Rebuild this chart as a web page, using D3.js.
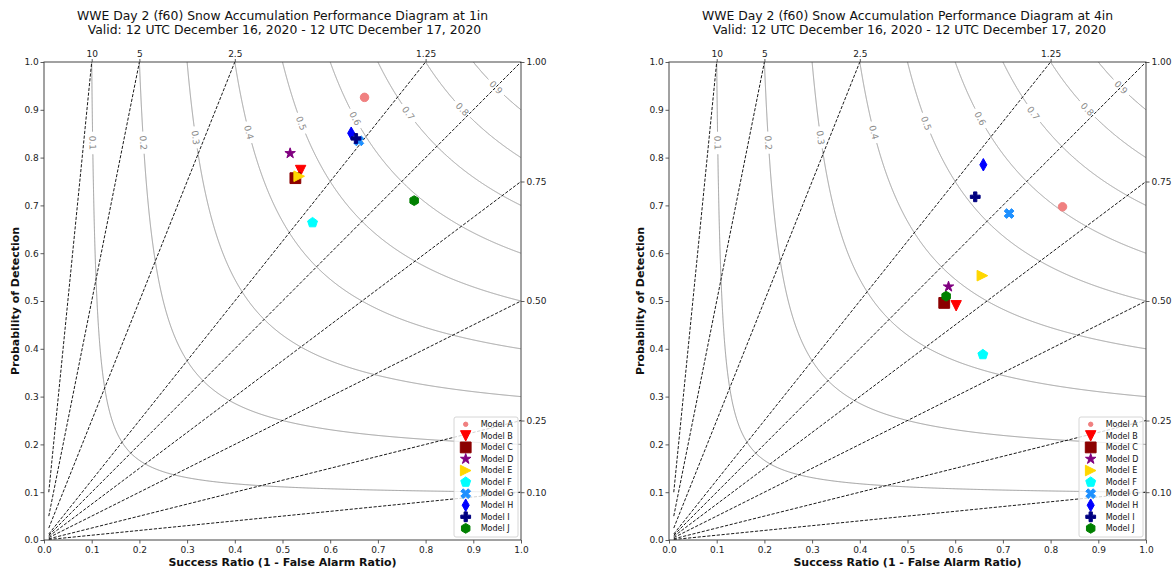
<!DOCTYPE html>
<html>
<head>
<meta charset="utf-8">
<script src="https://cdn.jsdelivr.net/npm/d3@7"></script>
<style>
  body { margin: 0; background: #fff; }
  svg { display: block; }
  text { font-family: "DejaVu Sans", sans-serif; }
</style>
</head>
<body>
<svg id="chart" width="1173" height="571"></svg>
<script>
// ---- data -------------------------------------------------------------
const models = ["Model A", "Model B", "Model C", "Model D", "Model E",
                "Model F", "Model G", "Model H", "Model I", "Model J"];
const modelColors = ["lightcoral", "red", "darkred", "purple", "gold",
                     "cyan", "dodgerblue", "blue", "navy", "green"];
const modelShapes = ["circle", "triangleDown", "square", "star", "triangleRight",
                     "pentagon", "xFilled", "thinDiamond", "plusFilled", "hexagon"];

// 1 inch threshold
const successRatio1in = [0.672, 0.538, 0.527, 0.516, 0.535, 0.563, 0.660, 0.644, 0.654, 0.776];
const pod1in          = [0.926, 0.773, 0.757, 0.809, 0.761, 0.664, 0.835, 0.851, 0.840, 0.710];
// 4 inch threshold
const successRatio4in = [0.825, 0.602, 0.577, 0.586, 0.657, 0.658, 0.713, 0.659, 0.642, 0.581];
const pod4in          = [0.697, 0.490, 0.496, 0.530, 0.553, 0.388, 0.683, 0.785, 0.718, 0.510];

const titles = [
  ["WWE Day 2 (f60) Snow Accumulation Performance Diagram at 1in",
   " Valid: 12 UTC December 16, 2020 - 12 UTC December 17, 2020"],
  ["WWE Day 2 (f60) Snow Accumulation Performance Diagram at 4in",
   " Valid: 12 UTC December 16, 2020 - 12 UTC December 17, 2020"]
];

// critical success index contours and where their labels sit (by POD)
const csiLevels   = [0.1, 0.2, 0.3, 0.4, 0.5, 0.6, 0.7, 0.8, 0.9];
const csiLabelPod = [0.831, 0.831, 0.842, 0.853, 0.872, 0.882, 0.893, 0.901, 0.947];

// frequency bias lines
const biasLevels = [0.1, 0.25, 0.5, 0.75, 1, 1.25, 2.5, 5, 10];
const topBias        = [10, 5, 2.5, 1.25];
const topTickLabels  = ["10", "5", "2.5", "1.25"];
const rightBias      = [1, 0.75, 0.5, 0.25, 0.1];
const rightTickLabels = ["1.00", "0.75", "0.50", "0.25", "0.10"];

const axisTicks = [0, 0.1, 0.2, 0.3, 0.4, 0.5, 0.6, 0.7, 0.8, 0.9, 1.0];
const axisTickLabels = ["0.0", "0.1", "0.2", "0.3", "0.4", "0.5", "0.6", "0.7", "0.8", "0.9", "1.0"];

// ---- marker shapes (size = nominal marker width in px) ----------------
function poly(ctx, pts) {
  ctx.moveTo(pts[0][0], pts[0][1]);
  for (let i = 1; i < pts.length; i++) ctx.lineTo(pts[i][0], pts[i][1]);
  ctx.closePath();
}
function regular(n, r, rot) {
  return d3.range(n).map(i => {
    const a = rot + i * 2 * Math.PI / n;
    return [r * Math.cos(a), r * Math.sin(a)];
  });
}
const shapeTypes = {
  circle: { draw(ctx, s) { ctx.moveTo(s / 2, 0); ctx.arc(0, 0, s / 2, 0, 2 * Math.PI); } },
  triangleDown: { draw(ctx, s) { const h = s / 2; poly(ctx, [[0, h], [-h, -h], [h, -h]]); } },
  triangleRight: { draw(ctx, s) { const h = s / 2; poly(ctx, [[h, 0], [-h, -h], [-h, h]]); } },
  square: { draw(ctx, s) { const h = s / 2; poly(ctx, [[-h, -h], [h, -h], [h, h], [-h, h]]); } },
  star: { draw(ctx, s) {
    const R = s / 2, r = R * 0.381966;
    const pts = d3.range(10).map(i => {
      const a = -Math.PI / 2 + i * Math.PI / 5, rr = i % 2 ? r : R;
      return [rr * Math.cos(a), rr * Math.sin(a)];
    });
    poly(ctx, pts);
  } },
  pentagon: { draw(ctx, s) { poly(ctx, regular(5, s / 2, -Math.PI / 2)); } },
  hexagon: { draw(ctx, s) { poly(ctx, regular(6, s / 2, -Math.PI / 2)); } },
  thinDiamond: { draw(ctx, s) {
    const hy = s * 0.6, hx = s * 0.34;
    poly(ctx, [[0, -hy], [hx, 0], [0, hy], [-hx, 0]]);
  } },
  plusFilled: { draw(ctx, s) {
    const k = s / 6;
    poly(ctx, [[-1, -3], [1, -3], [1, -1], [3, -1], [3, 1], [1, 1],
               [1, 3], [-1, 3], [-1, 1], [-3, 1], [-3, -1], [-1, -1]].map(p => [p[0] * k, p[1] * k]));
  } },
  xFilled: { draw(ctx, s) {
    const k = s / 4;
    poly(ctx, [[-1, -2], [0, -1], [1, -2], [2, -1], [1, 0], [2, 1],
               [1, 2], [0, 1], [-1, 2], [-2, 1], [-1, 0], [-2, -1]].map(p => [p[0] * k, p[1] * k]));
  } }
};
const markerSize = { circle: 8.5, triangleDown: 10.4, triangleRight: 10.6, square: 10.8, star: 11,
                     pentagon: 10.4, hexagon: 9.8, thinDiamond: 10.4, plusFilled: 9.8, xFilled: 9.8 };
const legendMarkerSize = Object.assign({}, markerSize, { circle: 4.4 });

// ---- layout -----------------------------------------------------------
const W = 477, H = 478, TOP = 62;
const panelLeft = [44, 669];
const svg = d3.select("#chart");

const srOnCsi = (c, p) => 1 / (1 / c + 1 - 1 / p);

function drawPanel(idx, sr, pod) {
  const left = panelLeft[idx];
  const x = d3.scaleLinear().domain([0, 1]).range([left, left + W]);
  const y = d3.scaleLinear().domain([0, 1]).range([TOP + H, TOP]);
  const g = svg.append("g");

  // CSI contours with inline labels
  const csiG = g.append("g");
  csiLevels.forEach((c, i) => {
    const m = 2 * c / (1 + c);
    const pts = [];
    const n = 500;
    for (let k = 0; k <= n; k++) { const p = 1 - (1 - m) * k / n; pts.push([srOnCsi(c, p), p]); }
    for (let k = 1; k <= n; k++) { const s = m + (1 - m) * k / n; pts.push([s, srOnCsi(c, s)]); }
    const lp = csiLabelPod[i], ls = srOnCsi(c, lp);
    const lx = x(ls), ly = y(lp);
    const gap = 11;
    const line = d3.line()
      .defined(d => Math.hypot(x(d[0]) - lx, y(d[1]) - ly) > gap)
      .x(d => x(d[0])).y(d => y(d[1]));
    csiG.append("path").attr("d", line(pts))
      .attr("fill", "none").attr("stroke", "#9a9a9a").attr("stroke-width", 1);
    const ratio = (ls * ls) / (lp * lp);
    const ang = Math.atan2(H, W * ratio) * 180 / Math.PI;
    csiG.append("text")
      .attr("transform", `translate(${lx},${ly}) rotate(${ang})`)
      .attr("text-anchor", "middle").attr("dy", "0.36em")
      .attr("font-size", 9).attr("fill", "#8a8a8a")
      .text(d3.format(".1f")(c));
  });

  // bias lines, starting from the first grid column (SR = 0.01)
  const biasG = g.append("g");
  biasLevels.forEach(b => {
    const start = [0.01, 0.01 * b];
    const end = b > 1 ? [1 / b, 1] : [1, b];
    biasG.append("path")
      .attr("d", d3.line().x(d => x(d[0])).y(d => y(d[1]))([start, end]))
      .attr("fill", "none").attr("stroke", "#000").attr("stroke-width", 0.9)
      .attr("stroke-dasharray", "3.2,1.6");
  });

  // axes
  const styleAxis = sel => {
    sel.select(".domain").remove();
    sel.selectAll(".tick line").attr("stroke", "#333").attr("stroke-width", 0.8);
    sel.selectAll(".tick text").attr("fill", "#222").attr("font-size", 9)
      .attr("font-family", "DejaVu Sans, sans-serif");
  };
  g.append("g").attr("transform", `translate(0,${TOP + H})`)
    .call(d3.axisBottom(x).tickValues(axisTicks).tickFormat((d, i) => axisTickLabels[i])
      .tickSize(3.5).tickPadding(3.5)).call(styleAxis);
  g.append("g").attr("transform", `translate(${left},0)`)
    .call(d3.axisLeft(y).tickValues(axisTicks).tickFormat((d, i) => axisTickLabels[i])
      .tickSize(3.5).tickPadding(1.8)).call(styleAxis);
  g.append("g").attr("transform", `translate(0,${TOP})`)
    .call(d3.axisTop(x).tickValues(topBias.map(b => 1 / b)).tickFormat((d, i) => topTickLabels[i])
      .tickSize(3).tickPadding(2.5)).call(styleAxis);
  g.append("g").attr("transform", `translate(${left + W},0)`)
    .call(d3.axisRight(y).tickValues(rightBias).tickFormat((d, i) => rightTickLabels[i])
      .tickSize(3.5).tickPadding(2)).call(styleAxis);

  // frame
  g.append("rect").attr("x", left).attr("y", TOP).attr("width", W).attr("height", H)
    .attr("fill", "none").attr("stroke", "#444").attr("stroke-width", 1);

  // titles and axis labels
  const cx = left + W / 2;
  titles[idx].forEach((t, k) => {
    g.append("text").attr("x", cx).attr("y", 20 + k * 14)
      .attr("text-anchor", "middle").attr("font-size", 12.4).attr("fill", "#111")
      .style("white-space", "pre").text(t);
  });
  g.append("text").attr("x", cx).attr("y", 566)
    .attr("text-anchor", "middle").attr("font-size", 11).attr("font-weight", "bold")
    .attr("fill", "#111").text("Success Ratio (1 - False Alarm Ratio)");
  g.append("text").attr("transform", `translate(${left - 25},${TOP + H / 2}) rotate(-90)`)
    .attr("text-anchor", "middle").attr("font-size", 11).attr("font-weight", "bold")
    .attr("fill", "#111").text("Probability of Detection");

  // model points
  const ptsG = g.append("g");
  models.forEach((mName, i) => {
    const shape = modelShapes[i];
    ptsG.append("path")
      .attr("transform", `translate(${x(sr[i])},${y(pod[i])})`)
      .attr("d", d3.symbol().type(shapeTypes[shape]).size(markerSize[shape])())
      .attr("fill", modelColors[i]).attr("stroke", modelColors[i]).attr("stroke-width", 1);
  });

  // legend
  const lg = g.append("g");
  const lx0 = left + W - 67, ly0 = TOP + H - 123;
  lg.append("rect").attr("x", lx0).attr("y", ly0).attr("width", 64).attr("height", 120)
    .attr("rx", 2).attr("fill", "#fff").attr("fill-opacity", 0.8)
    .attr("stroke", "#cccccc").attr("stroke-width", 0.8);
  models.forEach((mName, i) => {
    const shape = modelShapes[i];
    const yy = ly0 + 7.3 + i * 11.56;
    lg.append("path")
      .attr("transform", `translate(${lx0 + 11.7},${yy})`)
      .attr("d", d3.symbol().type(shapeTypes[shape]).size(legendMarkerSize[shape])())
      .attr("fill", modelColors[i]).attr("stroke", modelColors[i]).attr("stroke-width", 1);
    lg.append("text").attr("x", lx0 + 26.7).attr("y", yy).attr("dy", "0.35em")
      .attr("font-size", 8).attr("fill", "#111").text(mName);
  });
}

drawPanel(0, successRatio1in, pod1in);
drawPanel(1, successRatio4in, pod4in);
</script>
</body>
</html>
